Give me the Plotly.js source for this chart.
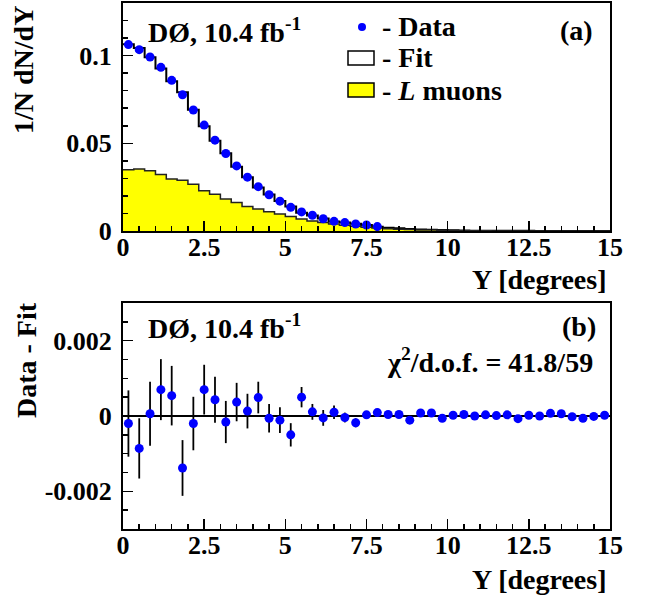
<!DOCTYPE html>
<html>
<head>
<meta charset="utf-8">
<script src="https://cdn.plot.ly/plotly-3.0.1.min.js"></script>
<style>html,body{margin:0;padding:0;background:#fff;}#chart{width:655px;height:599px;}</style>
</head>
<body>
<div id="chart"></div>
<script>
// ---- data ----
const binCenters = [0.1667,0.5,0.8333,1.1667,1.5,1.8333,2.1667,2.5,2.8333,3.1667,3.5,3.8333,4.1667,4.5,4.8333,
  5.1667,5.5,5.8333,6.1667,6.5,6.8333,7.1667,7.5,7.8333,8.1667,8.5,8.8333,9.1667,9.5,9.8333,
  10.1667,10.5,10.8333,11.1667,11.5,11.8333,12.1667,12.5,12.8333,13.1667,13.5,13.8333,14.1667,14.5,14.8333];

const dataValues = [0.1063,0.1034,0.0992,0.0933,0.0859,0.0777,0.0690,0.0604,0.0518,0.0442,0.0371,0.0307,
  0.0253,0.0207,0.0170,0.0135,0.0109,0.0090,0.0070,0.0055,0.0048,0.0040,0.0034,0.0025];

const fitValues = [0.1065,0.1043,0.0991,0.0926,0.0854,0.0791,0.0692,0.0597,0.0514,0.0444,0.0367,0.0306,
  0.0248,0.0208,0.0171,0.0140,0.0104,0.0089,0.0071,0.0054,0.0048,0.0042,0.0034,0.0024,
  0.0019,0.0015,0.0012,0.0009,0.0007,0.0005,0.0004,0.0003,0.0002,0.0002,0.0001,0.0001,
  0.0001,0.0001,0,0,0,0,0,0,0];

const lMuonValues = [0.0349,0.0353,0.0343,0.0322,0.0297,0.0290,0.0267,0.0230,0.0209,0.0183,0.0162,0.0139,
  0.0126,0.0110,0.0097,0.0082,0.0068,0.0057,0.0048,0.0040,0.0033,0.0027,0.0022,0.0017,
  0.0013,0.0010,0.0008,0.0006,0.0005,0.0004,0.0003,0.0002,0.0001,0.0001,0,0,
  0,0,0,0,0,0,0,0,0];

const residuals = [-0.00020,-0.00086,0.00006,0.00070,0.00054,-0.00138,-0.00020,0.00070,0.00043,-0.00016,
  0.00037,0.00013,0.00049,-0.00006,-0.00011,-0.00050,0.00050,0.00011,-0.00005,0.00010,
  -0.00004,-0.00018,0.00003,0.00009,0.00004,0.00004,-0.00011,0.00008,0.00008,-0.00006,
  0.00002,0.00004,0.00000,0.00003,0.00001,0.00003,-0.00007,0.00002,0.00000,0.00007,
  0.00006,-0.00002,-0.00006,-0.00001,0.00002];

const residualErrors = [0.00088,0.00080,0.00085,0.00081,0.00079,0.00074,0.00071,0.00066,0.00061,0.00056,
  0.00051,0.00046,0.00042,0.00038,0.00034,0.00031,0.00027,0.00021,0.00021,0.00018,
  0.00013,0.00012,0.00010,0.00008,0.00007,0.00006,0.00005,0.00004,0.00004,0.00003,
  0.00003,0.00003,0.00002,0.00002,0.00002,0.00002,0.00002,0.00002,0.00002,0.00002,
  0.00002,0.00002,0.00002,0.00002,0.00002];

const xTickVals = [0,2.5,5,7.5,10,12.5,15];
const xTickText = ['0','2.5','5','7.5','10','12.5','15'];
const yTopTickVals = [0,0.05,0.1];
const yTopTickText = ['0','0.05','0.1'];
const yBotTickVals = [-0.002,0,0.002];
const yBotTickText = ['-0.002','0','0.002'];

// ---- helpers ----
const binWidth = 1/3;
function stepXY(vals){
  const xs = binCenters.slice(0, vals.length).map(c => c - binWidth/2);
  xs.push(binCenters[vals.length-1] + binWidth/2);
  const ys = vals.slice(); ys.push(vals[vals.length-1]);
  return {x: xs, y: ys};
}

const FONT = 'Liberation Serif, Times New Roman, serif';
const BLUE = '#0000ff';

const fitStep = stepXY(fitValues);
const lStep = stepXY(lMuonValues);

const traces = [
  {x: fitStep.x, y: fitStep.y, type:'scatter', mode:'lines', line:{shape:'hv', color:'#000', width:2},
   xaxis:'x', yaxis:'y', hoverinfo:'skip', showlegend:false},
  {x: lStep.x, y: lStep.y, type:'scatter', mode:'lines', line:{shape:'hv', color:'#222', width:1.5},
   fill:'tozeroy', fillcolor:'#ffff00', xaxis:'x', yaxis:'y', showlegend:false},
  {x: binCenters.slice(0, dataValues.length), y: dataValues, type:'scatter', mode:'markers',
   marker:{color:BLUE, size:9}, xaxis:'x', yaxis:'y', showlegend:false},
  {x: binCenters, y: residuals, type:'scatter', mode:'markers',
   marker:{color:BLUE, size:9},
   error_y:{type:'data', array: residualErrors, visible:true, color:'#000', thickness:1.8, width:0},
   xaxis:'x2', yaxis:'y2', showlegend:false}
];

const tickFont = {family: FONT, size: 26, color:'#000', weight:'bold'};
function xAxis(anchor){
  return {domain:[0,1], range:[0,15], anchor: anchor, tickvals: xTickVals, ticktext: xTickText,
    ticks:'inside', ticklen:10, tickwidth:1.5, tickcolor:'#000',
    minor:{ticks:'inside', ticklen:5, dtick:0.5, tick0:0, tickcolor:'#000', tickwidth:1.5},
    showline:true, linecolor:'#000', linewidth:2, mirror:true, showgrid:false, zeroline:false,
    tickfont: tickFont, ticklabelstandoff: -8};
}
const W = 487, H = 526, L = 123, T = 3;
function px(x){ return (x - L)/W; }
function py(y){ return (T + H - y)/H; }

const annFont = {family: FONT, size: 28, color:'#000', weight:'bold'};
const annotations = [
  {text:'DØ, 10.4 fb<sup>-1</sup>', x:px(146), y:py(30), xanchor:'left', yanchor:'middle'},
  {text:'(a)', x:px(595), y:py(30), xanchor:'right', yanchor:'middle'},
  {text:'- Data', x:px(380), y:py(27), xanchor:'left', yanchor:'middle'},
  {text:'- Fit', x:px(380), y:py(58), xanchor:'left', yanchor:'middle'},
  {text:'- <i>L</i> muons', x:px(380), y:py(90), xanchor:'left', yanchor:'middle'},
  {text:'Y [degrees]', x:px(609), y:py(279), xanchor:'right', yanchor:'middle'},
  {text:'1/N dN/dY', x:px(24), y:py(4), xanchor:'center', yanchor:'top', textangle:-90},
  {text:'DØ, 10.4 fb<sup>-1</sup>', x:px(146), y:py(327), xanchor:'left', yanchor:'middle'},
  {text:'(b)', x:px(598), y:py(327), xanchor:'right', yanchor:'middle'},
  {text:'χ<sup>2</sup>/d.o.f. = 41.8/59', x:px(595), y:py(361), xanchor:'right', yanchor:'middle'},
  {text:'Y [degrees]', x:px(609), y:py(579), xanchor:'right', yanchor:'middle'},
  {text:'Data - Fit', x:px(26), y:py(300), xanchor:'center', yanchor:'top', textangle:-90}
].map(a => Object.assign({xref:'paper', yref:'paper', showarrow:false, font:annFont}, a));

const shapes = [
  {type:'circle', xref:'paper', yref:'paper', x0:px(358), x1:px(366), y0:py(31), y1:py(23),
   fillcolor:BLUE, line:{width:0}},
  {type:'rect', xref:'paper', yref:'paper', x0:px(348), x1:px(374), y0:py(65), y1:py(51),
   fillcolor:'#fff', line:{color:'#000', width:1.5}},
  {type:'rect', xref:'paper', yref:'paper', x0:px(348), x1:px(374), y0:py(97), y1:py(83),
   fillcolor:'#ffff00', line:{color:'#000', width:1.5}}
];

const layout = {
  width:655, height:599,
  margin:{l:L, r:655-L-W, t:T, b:599-T-H, pad:0},
  paper_bgcolor:'#fff', plot_bgcolor:'#fff',
  showlegend:false,
  font:{family: FONT, color:'#000'},
  xaxis: xAxis('y'),
  xaxis2: xAxis('y2'),
  yaxis: {domain:[py(231), 1], range:[0,0.13], anchor:'x', tickvals:yTopTickVals, ticktext:yTopTickText,
    ticks:'inside', ticklen:10, tickwidth:1.5, tickcolor:'#000',
    minor:{ticks:'inside', ticklen:5, dtick:0.01, tick0:0, tickcolor:'#000', tickwidth:1.5},
    showline:true, linecolor:'#000', linewidth:2, mirror:true, showgrid:false, zeroline:false,
    tickfont: tickFont, ticklabelstandoff: 4},
  yaxis2: {domain:[0, py(303)], range:[-0.003,0.003], anchor:'x2', tickvals:yBotTickVals, ticktext:yBotTickText,
    ticks:'inside', ticklen:10, tickwidth:1.5, tickcolor:'#000',
    minor:{ticks:'inside', ticklen:5, dtick:0.0005, tick0:0, tickcolor:'#000', tickwidth:1.5},
    showline:true, linecolor:'#000', linewidth:2, mirror:true, showgrid:false,
    zeroline:true, zerolinecolor:'#000', zerolinewidth:1.5,
    tickfont: tickFont, ticklabelstandoff: 4},
  annotations: annotations,
  shapes: shapes
};

Plotly.newPlot('chart', traces, layout, {displayModeBar:false, staticPlot:true});
</script>
</body>
</html>
